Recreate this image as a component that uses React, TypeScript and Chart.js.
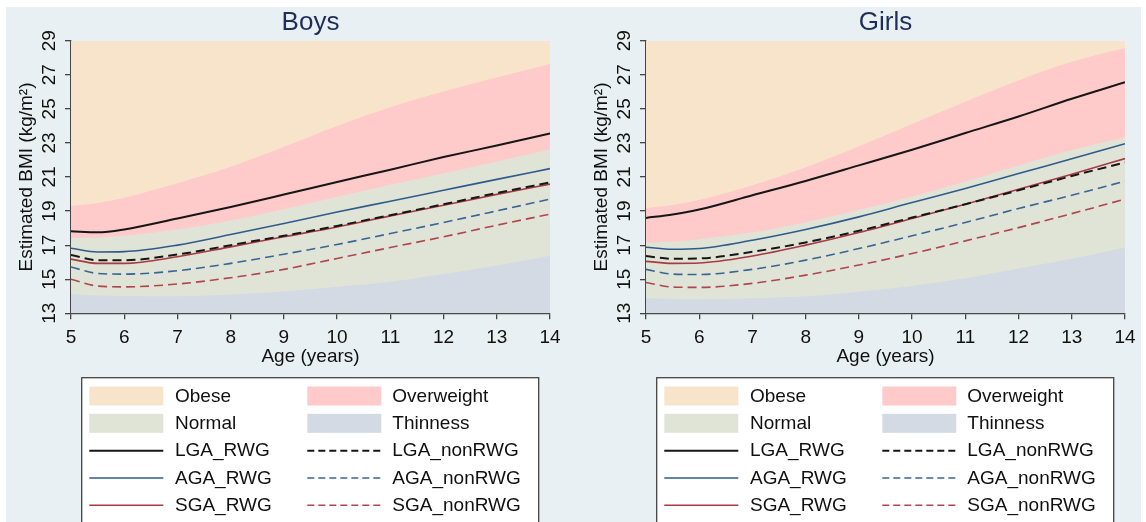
import React, { useEffect, useRef } from "react";
import { Chart, registerables } from "chart.js";

Chart.register(...registerables);

const FONT = "'Liberation Sans', Arial, sans-serif";

// ---------- data ----------
const ages = [5, 5.5, 6, 7, 8, 9, 10, 11, 12, 13, 14];
const xTickStep = 1;
const yMin = 13;
const yMax = 29;
const yTickStep = 2;

// Boys: BMI category cut-offs
const boysThinness = [14.13, 14.05, 14.02, 14.0, 14.1, 14.28, 14.56, 14.85, 15.3, 15.8, 16.38];
const boysOverweight = [17.42, 17.45, 17.55, 17.92, 18.44, 19.1, 19.84, 20.55, 21.22, 21.91, 22.62];
const boysObese = [19.3, 19.47, 19.78, 20.63, 21.6, 22.77, 24.0, 25.1, 26.02, 26.84, 27.63];
// Boys: estimated BMI trajectories
const boysLgaRwg = [17.82, 17.75, 17.92, 18.56, 19.24, 19.97, 20.71, 21.43, 22.17, 22.85, 23.56];
const boysLgaNon = [16.42, 16.12, 16.12, 16.45, 17.0, 17.55, 18.13, 18.76, 19.4, 20.06, 20.68];
const boysAgaRwg = [16.82, 16.6, 16.62, 17.0, 17.62, 18.27, 18.95, 19.58, 20.22, 20.86, 21.49];
const boysAgaNon = [15.72, 15.34, 15.3, 15.5, 15.93, 16.47, 17.04, 17.68, 18.33, 19.01, 19.7];
const boysSgaRwg = [16.18, 15.93, 15.93, 16.32, 16.9, 17.49, 18.07, 18.72, 19.34, 19.98, 20.58];
const boysSgaNon = [15.0, 14.6, 14.55, 14.72, 15.09, 15.58, 16.22, 16.86, 17.49, 18.17, 18.82];

// Girls: BMI category cut-offs
const girlsThinness = [13.9, 13.84, 13.82, 13.88, 14.0, 14.27, 14.6, 15.05, 15.63, 16.2, 16.86];
const girlsOverweight = [17.15, 17.2, 17.34, 17.75, 18.35, 19.07, 19.86, 20.74, 21.68, 22.58, 23.34];
const girlsObese = [19.17, 19.35, 19.65, 20.51, 21.57, 22.81, 24.11, 25.42, 26.67, 27.76, 28.57];
// Girls: estimated BMI trajectories
const girlsLgaRwg = [18.6, 18.8, 19.09, 19.93, 20.77, 21.68, 22.6, 23.58, 24.55, 25.59, 26.56];
const girlsLgaNon = [16.36, 16.2, 16.22, 16.61, 17.16, 17.84, 18.62, 19.4, 20.22, 21.06, 21.85];
const girlsAgaRwg = [16.88, 16.76, 16.8, 17.29, 17.92, 18.66, 19.5, 20.32, 21.2, 22.07, 22.95];
const girlsAgaNon = [15.58, 15.3, 15.28, 15.58, 16.12, 16.8, 17.55, 18.33, 19.15, 19.93, 20.75];
const girlsSgaRwg = [16.05, 15.93, 15.95, 16.36, 17.0, 17.74, 18.56, 19.4, 20.28, 21.16, 22.08];
const girlsSgaNon = [14.81, 14.54, 14.52, 14.76, 15.24, 15.83, 16.51, 17.25, 18.03, 18.85, 19.7];

const legendOrder = [
  "Obese", "Overweight",
  "Normal", "Thinness",
  "LGA_RWG", "LGA_nonRWG",
  "AGA_RWG", "AGA_nonRWG",
  "SGA_RWG", "SGA_nonRWG",
];

// ---------- styles ----------
const BG = "#e8f0f3";
const C_OBESE = "#f8e4ca";
const C_OVER = "#ffcaca";
const C_NORMAL = "#dfe4d6";
const C_THIN = "#d4dae3";
const C_BLACK = "#161616";
const C_BLUE = "#2f5b8c";
const C_RED = "#a83a44";
const C_BLUE_D = "#3a6495";
const C_RED_D = "#b0454d";
const AXIS = "#444";

const pts = (vals: number[]) => ages.map((a, i) => ({ x: a, y: vals[i] }));

function band(label: string, vals: number[], color: string, order: number) {
  return {
    label,
    data: pts(vals),
    backgroundColor: color,
    borderColor: "rgba(0,0,0,0)",
    borderWidth: 1,
    pointRadius: 0,
    fill: "start",
    order,
    cubicInterpolationMode: "monotone",
    _kind: "fill",
  };
}

function line(label: string, vals: number[], color: string, width: number, dashed: boolean) {
  return {
    label,
    data: pts(vals),
    borderColor: color,
    backgroundColor: color,
    borderWidth: width,
    borderDash: dashed ? [9, 5] : [],
    pointRadius: 0,
    fill: false,
    order: 1,
    cubicInterpolationMode: "monotone",
    _kind: "line",
    _legendDash: dashed ? [7, 4] : [],
  };
}

function legendPlugin() {
  return {
    id: "boxLegend",
    afterDraw(chart: any) {
      const { ctx, chartArea } = chart;
      const L = chartArea.left + 10.7;
      const T = chartArea.bottom + 64.4;
      const W = 457;
      ctx.save();
      ctx.fillStyle = "#ffffff";
      ctx.fillRect(L, T, W, 220);
      ctx.strokeStyle = AXIS;
      ctx.lineWidth = 1.3;
      ctx.strokeRect(L, T, W, 220);
      const ds = chart.data.datasets as any[];
      legendOrder.forEach((name, i) => {
        const d = ds.find((x) => x.label === name);
        if (!d) return;
        const col = i % 2;
        const row = Math.floor(i / 2);
        const cy = T + 18.3 + row * 27.33;
        const sx = L + (col ? 225.6 : 7.6);
        const tx = L + (col ? 310.6 : 93.3);
        if (d._kind === "fill") {
          ctx.fillStyle = d.backgroundColor;
          ctx.fillRect(sx, cy - 9.5, 74, 19);
        } else {
          ctx.strokeStyle = d.borderColor;
          ctx.lineWidth = d.borderWidth;
          ctx.setLineDash(d._legendDash);
          ctx.beginPath();
          ctx.moveTo(sx, cy);
          ctx.lineTo(sx + 74, cy);
          ctx.stroke();
          ctx.setLineDash([]);
        }
        ctx.fillStyle = "#111";
        ctx.font = `19px ${FONT}`;
        ctx.textAlign = "left";
        ctx.textBaseline = "middle";
        ctx.fillText(name, tx, cy + 0.5);
      });
      ctx.restore();
    },
  };
}

type Group = {
  title: string;
  thin: number[]; over: number[]; obese: number[];
  lgaRwg: number[]; lgaNon: number[]; agaRwg: number[]; agaNon: number[]; sgaRwg: number[]; sgaNon: number[];
};

function makeConfig(g: Group): any {
  const top = ages.map(() => yMax);
  const datasets = [
    band("Obese", top, C_OBESE, 10),
    band("Overweight", g.obese, C_OVER, 9),
    band("Normal", g.over, C_NORMAL, 8),
    band("Thinness", g.thin, C_THIN, 7),
    line("LGA_RWG", g.lgaRwg, C_BLACK, 2, false),
    line("LGA_nonRWG", g.lgaNon, C_BLACK, 2, true),
    line("AGA_RWG", g.agaRwg, C_BLUE, 1.6, false),
    line("AGA_nonRWG", g.agaNon, C_BLUE_D, 1.6, true),
    line("SGA_RWG", g.sgaRwg, C_RED, 1.6, false),
    line("SGA_nonRWG", g.sgaNon, C_RED_D, 1.6, true),
  ];
  const tickFont = { size: 19, family: FONT };
  const grid = { drawOnChartArea: false, drawTicks: true, tickLength: 6, color: AXIS, lineWidth: 1.3 };
  const border = { display: true, color: AXIS, width: 1.3 };
  return {
    type: "line",
    data: { datasets },
    plugins: [legendPlugin()],
    options: {
      responsive: false,
      maintainAspectRatio: false,
      animation: false,
      devicePixelRatio: 1,
      events: [],
      layout: { padding: { left: 0, right: 23, top: 0, bottom: 148.7 } },
      plugins: {
        legend: { display: false },
        tooltip: { enabled: false },
        title: {
          display: true,
          text: g.title,
          fullSize: false,
          color: "#1f2d5a",
          font: { size: 26, family: FONT, weight: "normal" },
          padding: { top: 7, bottom: 2.5 },
        },
      },
      scales: {
        x: {
          type: "linear",
          min: ages[0],
          max: ages[ages.length - 1],
          ticks: { stepSize: xTickStep, font: tickFont, color: "#111", padding: 7, autoSkip: false, maxRotation: 0 },
          grid,
          border,
          title: { display: true, text: "Age (years)", color: "#111", font: { size: 19, family: FONT }, padding: { top: 0, bottom: 5 } },
          afterFit: (s: any) => { s.height = 60; },
        },
        y: {
          type: "linear",
          min: yMin,
          max: yMax,
          ticks: {
            stepSize: yTickStep, font: tickFont, color: "#111", padding: 4.5, autoSkip: false,
            minRotation: 90, maxRotation: 90, crossAlign: "center",
          },
          grid,
          border,
          title: { display: true, text: "Estimated BMI (kg/m²)", color: "#111", font: { size: 19, family: FONT }, padding: { top: 15.6, bottom: 0 } },
          afterFit: (s: any) => { s.width = 71; },
        },
      },
    },
  };
}

const boys: Group = {
  title: "Boys",
  thin: boysThinness, over: boysOverweight, obese: boysObese,
  lgaRwg: boysLgaRwg, lgaNon: boysLgaNon, agaRwg: boysAgaRwg, agaNon: boysAgaNon, sgaRwg: boysSgaRwg, sgaNon: boysSgaNon,
};
const girls: Group = {
  title: "Girls",
  thin: girlsThinness, over: girlsOverweight, obese: girlsObese,
  lgaRwg: girlsLgaRwg, lgaNon: girlsLgaNon, agaRwg: girlsAgaRwg, agaNon: girlsAgaNon, sgaRwg: girlsSgaRwg, sgaNon: girlsSgaNon,
};

function Panel({ group, left }: { group: Group; left: number }) {
  const ref = useRef<HTMLCanvasElement>(null);
  useEffect(() => {
    const chart = new Chart(ref.current as HTMLCanvasElement, makeConfig(group));
    return () => chart.destroy();
  }, [group]);
  return (
    <canvas
      ref={ref}
      width={573}
      height={522}
      style={{ position: "absolute", left, top: 0, width: 573, height: 522 }}
    />
  );
}

export default function App() {
  Chart.defaults.font.family = FONT;
  return (
    <div style={{ position: "fixed", left: 0, top: 0, width: 1146, height: 522, background: "#fff", overflow: "hidden" }}>
      <div style={{ position: "absolute", left: 6, top: 7, width: 1135, height: 515, background: BG }} />
      <Panel group={boys} left={0} />
      <Panel group={girls} left={575} />
    </div>
  );
}
